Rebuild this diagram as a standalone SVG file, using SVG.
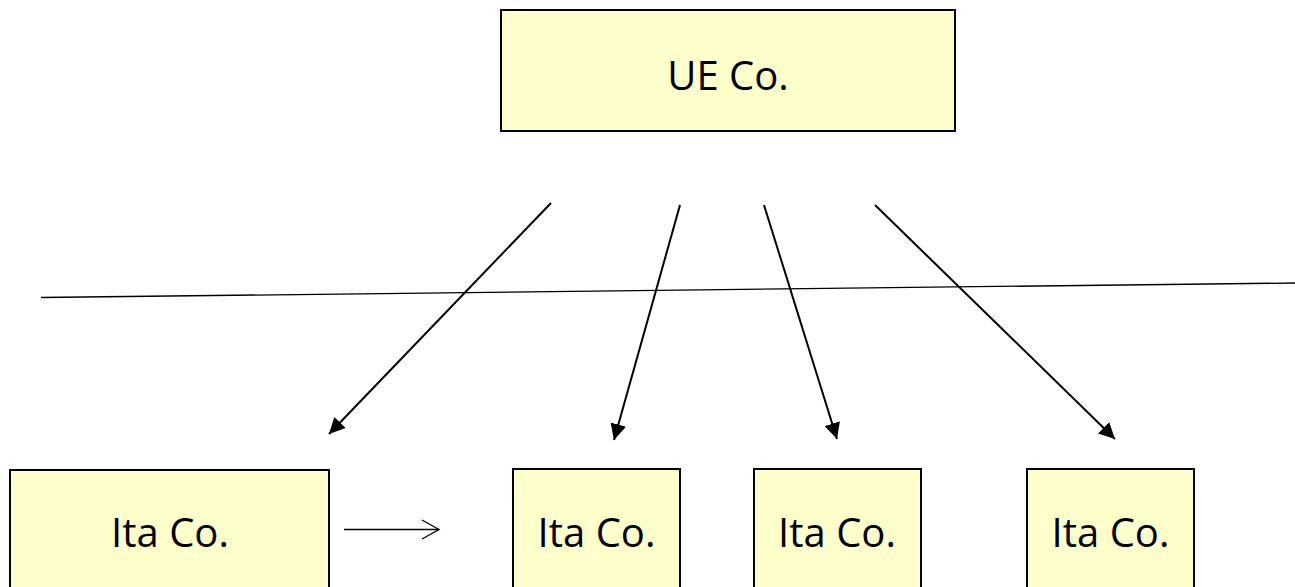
<svg xmlns="http://www.w3.org/2000/svg" width="1295" height="587" viewBox="0 0 1295 587">
<defs>
<style>
.box{fill:#FFFFCC;stroke:#000;stroke-width:2}
.lbl{font-family:"Open Sans","DejaVu Sans",sans-serif;font-size:40px;fill:#000;text-anchor:middle}
.conn{stroke:#000;stroke-width:2;fill:none}
.thin{stroke:#000;stroke-width:1.3;fill:none}
</style>
<marker id="ah" viewBox="0 0 10 10" refX="10" refY="5" markerWidth="8" markerHeight="8" markerUnits="strokeWidth" orient="auto">
<path d="M0,0 L10,5 L0,10 Z" fill="#000"/>
</marker>
</defs>
<rect width="1295" height="587" fill="#fff"/>
<g id="divider"><line x1="41" y1="297.5" x2="1295" y2="283" class="thin"/></g>
<g id="connectors">
<line x1="551" y1="203" x2="329" y2="434" class="conn" marker-end="url(#ah)"/>
<line x1="680" y1="205" x2="614" y2="440" class="conn" marker-end="url(#ah)"/>
<line x1="764" y1="205" x2="837" y2="439" class="conn" marker-end="url(#ah)"/>
<line x1="875" y1="205" x2="1115" y2="439" class="conn" marker-end="url(#ah)"/>
<line x1="344" y1="529.5" x2="439" y2="529.5" class="thin"/>
<polyline points="422,520 439,529.5 422,539" class="thin"/>
</g>
<g id="ue"><rect x="501" y="10" width="454" height="121" class="box"/><text x="728" y="90" class="lbl">UE Co.</text></g>
<g id="ita1"><rect x="10" y="470" width="319" height="130" class="box"/><text x="170" y="547" class="lbl">Ita Co.</text></g>
<g id="ita2"><rect x="513" y="469" width="167" height="130" class="box"/><text x="596.5" y="547" class="lbl">Ita Co.</text></g>
<g id="ita3"><rect x="754" y="469" width="167" height="130" class="box"/><text x="837" y="547" class="lbl">Ita Co.</text></g>
<g id="ita4"><rect x="1027" y="469" width="167" height="130" class="box"/><text x="1110.5" y="547" class="lbl">Ita Co.</text></g>
</svg>
